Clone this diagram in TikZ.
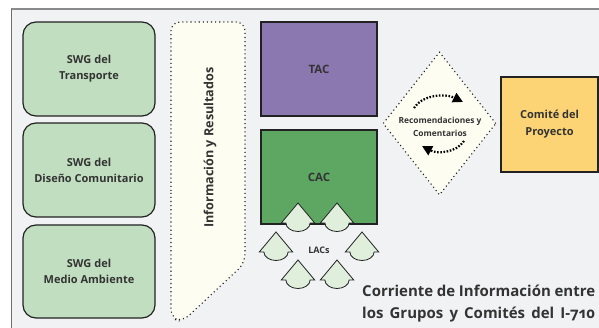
\documentclass[tikz,border=0pt]{standalone}
\usepackage{fontspec}
\setmainfont{Open Sans}
\newfontfamily\titlefont[Numbers=OldStyle]{Open Sans}
\usetikzlibrary{arrows.meta,shapes.geometric}
\definecolor{bgc}{HTML}{F1F2F4}
\definecolor{framec}{HTML}{8A8A8A}
\definecolor{swgc}{HTML}{C1DFC0}
\definecolor{tacc}{HTML}{8C78B0}
\definecolor{cacc}{HTML}{5EA763}
\definecolor{comc}{HTML}{FDD475}
\definecolor{lacc}{HTML}{E0EFDC}
\definecolor{infoc}{HTML}{FDFDF1}
\definecolor{txtc}{HTML}{333333}
\definecolor{edgec}{HTML}{222222}
\tikzset{
  swgbox/.style={draw=edgec, line width=1.2pt, fill=swgc, rounded corners=13pt,
    minimum width=132pt, minimum height=94pt, align=center, text=txtc,
    font=\bfseries\fontsize{11}{16}\selectfont, inner sep=0pt},
  sqbox/.style={draw=edgec, line width=1.2pt, minimum width=116pt, minimum height=94pt,
    text=txtc, font=\bfseries\fontsize{11.5}{16}\selectfont, inner sep=0pt, align=center},
  dotline/.style={draw=edgec, line width=1.1pt, dash pattern=on 1.1pt off 3pt},
  lacshape/.style={draw=edgec, line width=0.8pt, fill=lacc},
  flowarrow/.style={draw=black, line width=2.2pt, dash pattern=on 1.6pt off 1.6pt,
    -{Triangle[length=10pt,width=10pt]}},
  titletext/.style={anchor=base west, text=txtc, inner sep=0pt,
    font=\titlefont\bfseries\fontsize{15}{20}\selectfont}
}
\begin{document}
\begin{tikzpicture}[x=1pt,y=-1pt]
\useasboundingbox (0,0) rectangle (599,328);
% frame
\fill[bgc] (11,9) rectangle (599,328);
\draw[framec, line width=1.6pt] (11,9) -- (599,9);
\draw[framec!80!black, line width=0.8pt] (11,9) -- (11,328);
% SWG boxes
\node[swgbox] (swg1) at (89,69) {SWG del\\Transporte};
\node[swgbox] (swg2) at (89,170) {SWG del\\Diseño Comunitario};
\node[swgbox, minimum height=93pt] (swg3) at (89,271.5) {SWG del\\Medio Ambiente};
% info shape
\path[dotline, fill=infoc, rounded corners=9pt]
  (171,200) -- (171,22) -- (245,22) -- (245,263) -- (182,322) -- (171,318) -- cycle;
\node[rotate=90, text=txtc, font=\bfseries\fontsize{12.6}{14}\selectfont] (info) at (210,147.5) {Información y Resultados};
% TAC / CAC
\node[sqbox, fill=tacc] (tac) at (319,69) {TAC};
\node[sqbox, fill=cacc] (cac) at (319,177) {CAC};
% LACs
\foreach \ax/\ay [count=\i] in {298/203, 337/203, 276/232, 362/232, 298/260, 337/260}{
  \coordinate (lac\i) at (\ax,\ay);
  \path[lacshape] (lac\i) -- ++(-16.7,20) -- ++(4.6,0)
     arc[start angle=180, end angle=360, x radius=12.1pt, y radius=8.5pt]
     -- ++(4.6,0) -- cycle;
}
\node[text=txtc, font=\bfseries\fontsize{9}{11}\selectfont] (lacs) at (319,250) {LACs};
% diamond
\node[diamond, dotline, fill=infoc, minimum width=113pt, minimum height=143pt, inner sep=0pt] (dia) at (439.5,123.5) {};
\node[text=txtc, align=center, font=\bfseries\fontsize{8.4}{13}\selectfont] (diatext) at (440,127) {Recomendaciones y\\Comentarios};
\coordinate (a1s) at (414,108);
\coordinate (a1e) at (463,102);
\coordinate (a2s) at (464,141);
\coordinate (a2e) at (422,146);
\draw[flowarrow] (a1s) .. controls (422,95) and (445,93) .. (a1e);
\draw[flowarrow] (a2s) .. controls (456,153) and (437,154) .. (a2e);
% Comite
\node[sqbox, fill=comc, minimum width=97pt, minimum height=95pt, font=\bfseries\fontsize{11}{17}\selectfont] (com) at (549.5,124.5) {Comité del\\Proyecto};
% title
\node[titletext] (title1) at (362,297) {\makebox[233pt][s]{Corriente de Información entre}};
\node[titletext] (title2) at (362,318) {\makebox[233pt][s]{los Grupos y Comités del I-710}};
\end{tikzpicture}
\end{document}
